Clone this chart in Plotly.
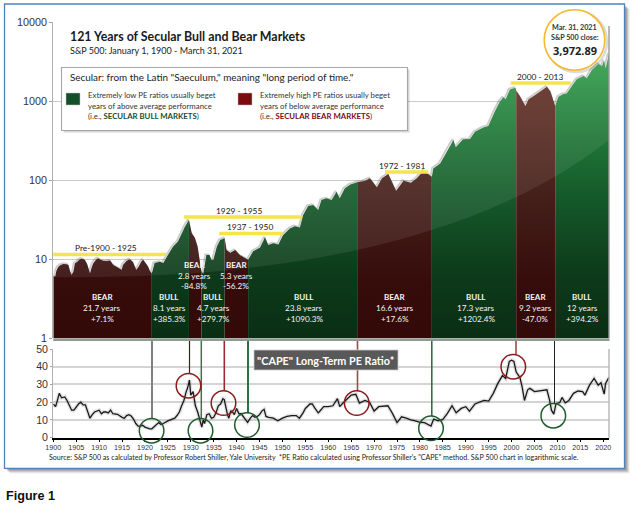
import plotly.graph_objects as go

W, H = 632, 507

# ---- data ----
spx_years = [1900,1900.4,1900.7,1901.1,1901.6,1902.2,1902.9,1903.3,1903.7,1904,1904.4,1904.7,1905.2,1905.8,1906.3,1906.9,
 1907.4,1908,1908.4,1908.7,1909.3,1909.8,1910.3,1910.9,1911.6,1912.4,1913.1,1913.8,1914.5,1914.9,1915.2,1916,1916.7,
 1917.4,1918.1,1918.6,1919.2,1919.6,1920.2,1920.7,1921.1,1921.5,
 1922.1,1923.2,1924,1925,1926.1,1927.2,1928,1928.7,1929.6,
 1930.2,1930.9,1931.5,1932.3,
 1932.7,1933.4,1934.1,1934.5,1934.9,1935.7,1936.4,1937.4,
 1937.8,1938.6,1939.7,1940.7,1941.8,1942.5,
 1943.6,1945.1,1946.2,1946.9,1948,1949.1,1950.1,1951.6,1952.7,1953.8,1954.5,1955.6,1956.7,1957.8,1958.5,1959.6,1960.7,
 1961.8,1962.5,1963.6,1964.8,1966.3,
 1967.3,1968,1969.1,1970.6,1971.7,1973.1,1974.8,1976.4,1978,1979.3,1980.8,1981.8,1982.6,
 1982.9,1984.4,1985.8,1987.3,1987.8,1989.4,1990.9,1992,1993.8,1994.9,1996.3,1997.4,1998.2,1998.7,1999.6,2000.8,2001,
 2001.9,2003,2003.7,2004.8,2006.3,2007.7,2008.5,2009.5,
 2010.2,2011.3,2012,2013.3,2014.2,2015.7,2016.4,2017.5,2018.9,2019.7,2020.2,2020.5,2021,2021.25]
spx_values = [6.1,6.0,7.2,8.0,8.4,8.65,8.6,8.4,6.9,6.3,7.0,8.8,9.2,9.9,10.1,9.7,
 8.6,6.6,7.9,8.8,9.8,10.2,9.8,9.5,9.4,9.6,8.4,8.0,7.6,7.3,8.4,9.5,9.9,
 9.1,7.3,8.0,9.3,9.8,8.8,8.0,7.0,6.6,
 8.9,9.2,8.9,11.2,14.3,16.6,21.3,25.6,31.2,
 21.3,18.4,14.3,7.0,
 6.5,11.2,11.2,9.7,9.7,14.5,17.4,18.3,
 13,12,13,11.2,10.3,9.8,
 12.5,14,18.8,15,15.8,15.3,20,24.4,26,25,36,46.9,48.3,41.7,55.8,58.6,55.8,
 71,58.6,78.5,88,93.6,
 95,98,105,80.7,105,119,73,98,92.6,105,131,119,110,
 140,162,228,321,259,327,330,408,463,482,733,979,1112,1050,1403,1472,1349,
 1132,863,1050,1156,1349,1517,1312,863,
 1132,1225,1240,1592,1879,2070,1936,2467,2950,2773,3236,2588,3600,3972.89]

segment_edges = [1900,1921.5,1929.6,1932.3,1937.4,1942.5,1966.3,1982.6,2001,2009.5,2021.25]
segment_kinds = ["bear","bull","bear","bull","bear","bull","bear","bull","bear","bull"]

cape_years = [1900,1900.5,1901,1901.3,1901.8,1902.5,1903,1903.5,1904,1904.5,1905,1905.5,1906,1906.5,1907,1907.5,1908,1908.5,
 1909,1910,1910.5,1911,1911.5,1912,1912.5,1913,1914,1915,1915.5,1916,1916.5,1917,1917.5,1918,1918.5,1919,1919.5,1920,
 1920.5,1921,1921.5,1922,1922.5,1923,1923.5,1924,1925,1926,1926.5,1927,1927.5,1928,1928.5,1929,1929.3,1929.7,1930,
 1930.5,1931,1931.5,1932,1932.4,1932.7,1933,1933.5,1934,1934.5,1935,1935.5,1936,1936.5,1937,1937.3,1937.8,1938,1938.3,
 1938.7,1939,1939.5,1940,1940.5,1941,1941.5,1942,1942.4,1943,1943.5,1944,1944.5,1945,1945.5,1946,1946.4,1947,1948,1949,
 1950,1951,1952,1953,1953.7,1954.5,1955,1956,1956.5,1957,1957.8,1958,1959,1960,1961,1962,1962.5,1963,1965,1966,1966.8,
 1968,1969,1970,1971,1973,1974,1975,1976,1977,1978,1979,1980,1981,1982.4,1983,1984,1985,1986,1987,1987.9,1989,1990,
 1990.8,1992,1993,1994,1995,1996,1997,1998,1998.7,1999.5,2000,2000.5,2001,2001.8,2002.3,2002.8,2003.5,2004,2005,2006,
 2007,2007.7,2008.3,2008.7,2009.2,2009.7,2010.5,2011,2011.7,2012.5,2013.5,2014.5,2015.5,2016,2017,2018,2018.9,2019.5,
 2020.2,2020.5,2021.25]
cape_values = [19,17.5,22,25,22.5,23,21,18,15.5,15.5,17.5,19,20,18.5,18.5,15,11,13,
 14.5,15.5,13.5,14.5,14.5,14,15.5,13.5,13.2,11.5,11,12.5,13,12.2,10.5,8,6.5,6.5,7,6,
 5.5,5,5,6,7,8.5,7.5,8,9.5,10.5,11,12.5,14.5,18,21,26,28,32.5,24,
 26,18,14.5,9,6,10,8,13,13.5,11,11.5,14,18,19,22,21.5,14,13,11,
 15,15,13,16.5,13.5,13.5,12,10,8.7,11,12.5,11.5,12,13,15,16,12,11.5,11,9.5,
 11,12,12.5,12.5,11,14,16.5,19,19,17,14,14.5,17.5,17.5,18,22,17.5,19,24,24.5,19.5,
 21,20,15,17.5,18,13.7,8.5,11.8,11,10,9.5,8.7,8.5,6.6,10.5,9.5,10.3,13.7,18,14,16.5,17.5,
 15,19,20,21,20.6,25,30.6,35,33.4,43,43.7,43,37,34,28.7,21,27,27.8,26,26.5,
 27,27,21,15.5,13.3,19.3,19.7,22.7,19.7,21,25,26.3,26,24,29.6,33.4,29.6,31,
 24.6,30.6,34]

upper_ticks = [1, 10, 100, 1000, 10000]
upper_tick_labels = ["1", "10", "100", "1000", "10000"]
lower_ticks = [0, 10, 20, 30, 40, 50]
year_ticks = list(range(1900, 2021, 5))

# era bars: (first year, last year, level, label)
era_starts = [1899.1, 1928.5, 1936.2, 1972.4, 1999.8]
era_ends = [1924.6, 1954.2, 1950.1, 1981.8, 2012.9]
era_levels = [11.4, 34, 21, 126, 1690]
era_labels = ["Pre-1900 - 1925", "1929 - 1955", "1937 - 1950", "1972 - 1981", "2000 - 2013"]

# block captions: kind, years, change
caption_kinds = ["BEAR","BULL","BEAR","BULL","BEAR","BULL","BEAR","BULL","BEAR","BULL"]
caption_years = ["21.7 years","8.1 years","2.8 years","4.7 years","5.3 years","23.8 years","16.6 years","17.3 years","9.2 years","12 years"]
caption_moves = ["+7.1%","+385.3%","-84.8%","+279.7%","-56.2%","+1090.3%","+17.6%","+1202.4%","-47.0%","+394.2%"]

# ---- layout helpers: everything below is placed in picture pixels ----
def fx(x): return x / W
def fy(y): return 1 - y / H

AX_L, AX_R = 53.3, 609.0
UP_T, UP_B = 22.0, 338.0
LO_T, LO_B = 349.0, 437.7

SANS = "Lato, Roboto, sans-serif"
ARIAL = "Liberation Sans, Arial, sans-serif"

BULL_SCALE = [[0, "#0a2e14"], [0.2, "#0d3a1a"], [0.45, "#155a2a"], [0.7, "#23803c"], [0.88, "#33a04d"], [1, "#36a851"]]
BEAR_SCALE = [[0, "#330a08"], [0.17, "#350c0a"], [0.45, "#45201b"], [0.75, "#5f2f24"], [1, "#703a2c"]]

fig = go.Figure()

# soft edge behind the index area
fig.add_trace(go.Scatter(x=[v - 0.25 for v in spx_years], y=[v * 1.02 for v in spx_values],
                         mode="lines", line=dict(color="rgba(70,70,70,0.3)", width=1.8), hoverinfo="skip",
                         xaxis="x", yaxis="y"))

for i, kind in enumerate(segment_kinds):
    a, b = segment_edges[i], segment_edges[i + 1]
    xs = [x for x in spx_years if a <= x <= b]
    ys = [v for x, v in zip(spx_years, spx_values) if a <= x <= b]
    if xs[0] > a:
        xs = [a] + xs
        ys = [[v for x, v in zip(spx_years, spx_values) if x <= a][-1]] + ys
    fig.add_trace(go.Scatter(
        x=xs + [xs[-1], xs[0]], y=ys + [1, 1], mode="lines", fill="toself",
        line=dict(width=0), hoverinfo="skip",
        fillgradient=dict(type="vertical", start=1, stop=10000,
                          colorscale=BULL_SCALE if kind == "bull" else BEAR_SCALE),
        xaxis="x", yaxis="y"))

for s, e, lv in zip(era_starts, era_ends, era_levels):
    fig.add_trace(go.Scatter(x=[s, e], y=[lv, lv], mode="lines", cliponaxis=False,
                             line=dict(color="#f2e33c", width=3.4), hoverinfo="skip", xaxis="x", yaxis="y"))

fig.add_trace(go.Scatter(x=cape_years, y=cape_values, mode="lines",
                         line=dict(color="rgba(110,110,110,0.2)", width=4), hoverinfo="skip", xaxis="x2", yaxis="y2"))
fig.add_trace(go.Scatter(x=cape_years, y=cape_values, mode="lines",
                         line=dict(color="#1a1a1a", width=1.3), hoverinfo="skip", xaxis="x2", yaxis="y2"))

shapes = []
def rect(x0, y0, x1, y1, fill="rgba(0,0,0,0)", line=None, lw=1, layer="above"):
    shapes.append(dict(type="rect", xref="paper", yref="paper", x0=fx(x0), x1=fx(x1), y0=fy(y1), y1=fy(y0),
                       fillcolor=fill, line=dict(color=line or "rgba(0,0,0,0)", width=lw if line else 0), layer=layer))
def vline(x, y0, y1, color, lw):
    shapes.append(dict(type="line", xref="paper", yref="paper", x0=fx(x), x1=fx(x), y0=fy(y1), y1=fy(y0),
                       line=dict(color=color, width=lw), layer="above"))
def circle(cx, cy, r, color, lw=1.5, fill="rgba(0,0,0,0)"):
    shapes.append(dict(type="circle", xref="paper", yref="paper", x0=fx(cx - r), x1=fx(cx + r), y0=fy(cy + r), y1=fy(cy - r),
                       line=dict(color=color, width=lw), fillcolor=fill, layer="above"))

# page frame with its shadow
for off, alpha in [(5, 0.10), (4, 0.14), (3, 0.18), (2, 0.22)]:
    rect(4.5 + off, 4 + off, 624.5 + off, 468.3 + off, fill=f"rgba(60,60,60,{alpha})", layer="below")
rect(4.5, 4, 624.5, 468.3, fill="#ffffff", line="#4f81bd", lw=1.3, layer="below")

# gloss over the index area
path = "M {} {} C {} {} {} {} {} {} L {} {} L {} {} Z".format(
    fx(AX_L), fy(277), fx(250), fy(280), fx(470), fy(250), fx(AX_R), fy(140),
    fx(AX_R), fy(UP_T), fx(AX_L), fy(UP_T))
shapes.append(dict(type="path", xref="paper", yref="paper", path=path, fillcolor="rgba(255,255,255,0.08)",
                   line=dict(width=0), layer="above"))

# edge rules of the two panels
rect(AX_L, 338.2, AX_R + 0.5, 341, fill="#8f9a93")
vline(AX_R, 26, 338, "#9a9a9a", 1.4)
vline(AX_R, LO_T, LO_B, "#b5b5b5", 1.4)

# definition box
rect(63.5, 69.5, 409.5, 132.5, fill="rgba(90,90,90,0.25)")
rect(61.5, 67.5, 407.5, 130.5, fill="#ffffff", line="#a6a6a6", lw=1.1)
rect(66, 93, 80, 105, fill="#14502b", line="#b8c8bc", lw=0.5)
rect(238, 93, 252, 105, fill="#7a0c10", line="#c8b0b0", lw=0.5)

# connectors and circles
connector_x = [152, 189.5, 201.3, 224.3, 248, 357.5, 431.8, 516, 554.5]
connector_end = [418.5, 373, 418.5, 391, 413, 391, 416, 354.5, 403.5]
connector_col = ["#808080", "#4a1a1a", "#2f7a4a", "#9b2a2a", "#1f6b3a", "#a04848", "#1f6b3a", "#a04848", "#222222"]
connector_w = [2, 1.2, 1.5, 1.6, 1.9, 1.6, 1.5, 1.6, 1]
for x, e, c, w in zip(connector_x, connector_end, connector_col, connector_w):
    vline(x, 341, e, c, w)

GREEN_RING, RED_RING = "#1e5c2e", "#8b1a1a"
for cx, cy, col in [(151.6, 430.7, GREEN_RING), (188.5, 385.7, RED_RING), (200.5, 430.7, GREEN_RING),
                    (223.5, 403, RED_RING), (247, 425, GREEN_RING), (356.7, 403, RED_RING),
                    (431, 428.3, GREEN_RING), (513.3, 366.7, RED_RING), (553.3, 415.7, GREEN_RING)]:
    circle(cx, cy, 12.3, col)

# CAPE banner
rect(254, 350, 398, 370, fill="#595959", line="#c9c9c9", lw=0.8)

# closing value badge
circle(576.5, 41.5, 30.5, "rgba(90,90,90,0.22)", lw=2.5)
circle(574.5, 40, 30.3, "#f4b92f", lw=1.6, fill="#ffffff")

annotations = []
def text(x, y, s, size=9, color="#1a1a1a", anchor="center", family=SANS, bold=False):
    annotations.append(dict(xref="paper", yref="paper", x=fx(x), y=fy(y), xanchor=anchor, yanchor="middle",
                            text=f"<b>{s}</b>" if bold else s, showarrow=False,
                            font=dict(size=size, color=color, family=family)))

text(68, 36, "121 Years of Secular Bull and Bear Markets", size=12.4, anchor="left", bold=True)
text(68, 50.5, "S&amp;P 500: January 1, 1900 - March 31, 2021", size=9, anchor="left", color="#222222")
text(68, 77, "Secular: from the Latin \"Saeculum,\" meaning \"long period of time.\"", size=9.9, anchor="left", color="#222222")
text(85.5, 95.5, "Extremely low PE ratios usually beget", size=7.8, anchor="left", color="#333333")
text(85.5, 106, "years of above average performance", size=7.8, anchor="left", color="#333333")
text(85.5, 116.5, "(i.e., <b><span style='color:#14502b'>SECULAR BULL MARKETS</span></b>)", size=7.8, anchor="left", color="#333333")
text(257.5, 95.5, "Extremely high PE ratios usually beget", size=7.8, anchor="left", color="#333333")
text(257.5, 106, "years of below average performance", size=7.8, anchor="left", color="#333333")
text(257.5, 116.5, "(i.e., <b><span style='color:#7a0c10'>SECULAR BEAR MARKETS</span></b>)", size=7.8, anchor="left", color="#333333")

era_label_x = [106, 239, 249.5, 401.7, 540]
era_label_y = [248.5, 211, 227.5, 166, 77]
for x, y, s in zip(era_label_x, era_label_y, era_labels):
    text(x, y, s, size=8.4, color="#1a1a1a", bold=False)

caption_x = [102, 169, 194, 213, 236, 304, 394.7, 476, 535, 582]
caption_y = [297, 297, 264.5, 297, 264.5, 297, 297, 297, 297, 297]
for x, y, k, yr, mv in zip(caption_x, caption_y, caption_kinds, caption_years, caption_moves):
    text(x, y, k, size=8, color="#f5f5f5", bold=True)
    text(x, y + 11, yr, size=8.2, color="#f5f5f5")
    text(x, y + 21.5, mv, size=8.2, color="#f5f5f5")

text(326, 360, "\"CAPE\" Long-Term PE Ratio*", size=10.8, color="#ffffff", bold=True)
text(574.5, 28, "Mar. 31, 2021", size=7.2, color="#333333", bold=True)
text(574.5, 38, "S&amp;P 500 close:", size=7.2, color="#333333", bold=True)
text(574.5, 50, "3,972.89", size=11, color="#222222", bold=True, family="Open Sans, sans-serif")
text(47, 457.5, "Source: S&amp;P 500 as calculated by Professor Robert Shiller, Yale University &nbsp;*PE Ratio calculated using Professor Shiller's \"CAPE\" method. S&amp;P 500 chart in logarithmic scale.",
     size=7.1, anchor="left", color="#222222")
text(4, 496, "Figure 1", size=12.6, anchor="left", color="#111111", family=ARIAL, bold=True)

fig.update_layout(
    width=W, height=H, autosize=False, showlegend=False,
    margin=dict(l=0, r=0, t=0, b=0, pad=0),
    paper_bgcolor="#ffffff", plot_bgcolor="rgba(0,0,0,0)",
    shapes=shapes, annotations=annotations,
    xaxis=dict(domain=[fx(AX_L), fx(AX_R)], range=[1900, 2021.25], showgrid=False, showticklabels=False, automargin=False,
               ticks="", zeroline=False, showline=False, anchor="y"),
    yaxis=dict(domain=[fy(UP_B), fy(UP_T)], type="log", range=[0, 4], tickmode="array", tickvals=upper_ticks, automargin=False,
               ticktext=upper_tick_labels, ticks="outside", ticklen=3, tickcolor="#a0a0a0", tickwidth=1,
               showline=True, linecolor="#b0b0b0", linewidth=1.4, gridcolor="#c6c6c6", gridwidth=1.3,
               showgrid=True, zeroline=False, tickfont=dict(family=ARIAL, size=10.8, color="#333333"), anchor="x"),
    xaxis2=dict(domain=[fx(AX_L), fx(AX_R)], range=[1900, 2021.25], tickmode="array", tickvals=year_ticks, automargin=False,
                ticks="outside", ticklen=2, tickcolor="#000000", tickwidth=1, showline=True, linecolor="#000000",
                linewidth=1.6, showgrid=False, zeroline=False, tickangle=0,
                tickfont=dict(family=ARIAL, size=7.2, color="#333333"), anchor="y2"),
    yaxis2=dict(domain=[fy(LO_B), fy(LO_T)], range=[0, 50], tickmode="array", tickvals=lower_ticks, automargin=False,
                ticks="outside", ticklen=2, tickcolor="#a0a0a0", showline=True, linecolor="#b0b0b0", linewidth=1.4,
                gridcolor="#d4d4d4", gridwidth=1.6, zeroline=False,
                tickfont=dict(family=ARIAL, size=10.6, color="#333333"), anchor="x2"),
)

fig.write_html("out.html", config={"displayModeBar": False}, div_id="chart",
               post_script="document.documentElement.style.margin='0';document.body.style.margin='0';document.body.style.padding='0';"
                           "var c=document.getElementById('chart');c.style.position='fixed';c.style.left='0';c.style.top='0';"
                           "document.documentElement.style.overflow='hidden';")
